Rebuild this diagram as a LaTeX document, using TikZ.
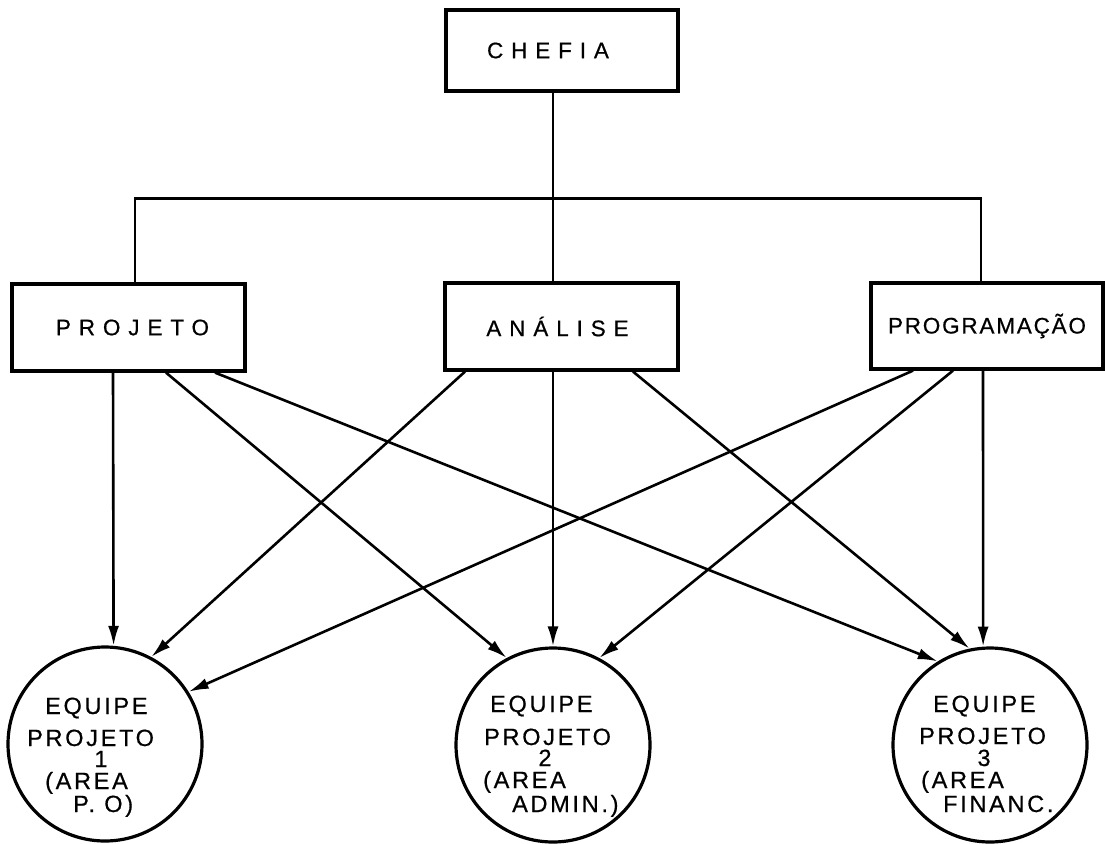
\documentclass[tikz,border=0pt]{standalone}
\usepackage{fontspec}
\setmainfont{Liberation Sans}
\newfontfamily\boxfont[LetterSpace=35,FakeBold=0.6]{Liberation Sans}
\newfontfamily\progfont[LetterSpace=8,FakeBold=0.6]{Liberation Sans}
\newfontfamily\teamfont[LetterSpace=11.5,FakeBold=0.6]{Liberation Sans}
\usetikzlibrary{arrows.meta}

\begin{document}
\begin{tikzpicture}[x=1pt,y=-1pt,
  unitbox/.style={draw,line width=3.2pt,rectangle,inner sep=0pt,
    minimum width=233pt,minimum height=87pt,
    font=\boxfont\fontsize{22.5}{22.5}\selectfont},
  team/.style={draw,line width=3.2pt,circle,inner sep=0pt,minimum size=194pt},
  teamtext/.style={inner sep=0pt,anchor=base west,text height=16pt,text depth=0pt,
    font=\teamfont\fontsize{23.5}{23.5}\selectfont},
  link/.style={line width=2.6pt},
  flow/.style={line width=2.6pt,-{Latex[length=20pt,width=11pt]}}]

\useasboundingbox (0,0) rectangle (1105,843);

% management and the three sections
\node[unitbox,minimum width=232pt,minimum height=81pt] (chefia) at (562,50.5)
  {\hspace*{-28pt}CHEFIA};
\node[unitbox] (proj) at (128.5,327.5) {\hspace*{8pt}PROJETO};
\node[unitbox] (ana)  at (561.5,326.5) {\hspace*{-8pt}ANÁLISE};
\node[unitbox,minimum width=232pt,minimum height=86pt,
      font=\progfont\fontsize{22.5}{22.5}\selectfont] (prog) at (987,326) {PROGRAMAÇÃO};

% project teams
\node[team] (c1) at (105,744) {};
\node[team] (c2) at (553,745) {};
\node[team] (c3) at (990,745) {};

\node[teamtext] (c1a) at (45,714) {EQUIPE};
\node[teamtext] (c1b) at (27,746) {PROJETO};
\node[teamtext,anchor=base] (c1c) at (101,767) {1};
\node[teamtext] (c1d) at (45,789) {(AREA};
\node[teamtext] (c1e) at (73,812) {P. O)};

\node[teamtext] (c2a) at (490,712) {EQUIPE};
\node[teamtext] (c2b) at (484,745) {PROJETO};
\node[teamtext,anchor=base] (c2c) at (545,766) {2};
\node[teamtext] (c2d) at (483,788) {(AREA};
\node[teamtext] (c2e) at (512,812) {ADMIN.)};

\node[teamtext] (c3a) at (933,712) {EQUIPE};
\node[teamtext] (c3b) at (919,744) {PROJETO};
\node[teamtext,anchor=base] (c3c) at (984,766) {3};
\node[teamtext] (c3d) at (921,788) {(AREA};
\node[teamtext] (c3e) at (943,812) {FINANC.};

% hierarchy lines
\draw[link] ([xshift=-9pt]chefia.south) -- ([xshift=-8.5pt]ana.north);
\draw[link] ([xshift=6.5pt]proj.north) -- ++(0,-84) -| ([xshift=-6pt]prog.north);

% assignments of sections to teams
\draw[flow] ([xshift=-15.5pt]proj.south) -- (c1.85);
\draw[flow] ([xshift=37.5pt]proj.south) -- (c2.118);
\draw[flow] ([xshift=86.5pt]proj.south) -- (c3.122);

\draw[flow] ([xshift=-96.5pt]ana.south) -- (c1.62);
\draw[flow] ([xshift=-8.5pt]ana.south) -- (c2.90);
\draw[flow] ([xshift=71.5pt]ana.south) -- (c3.102);

\draw[flow] ([xshift=-74pt]prog.south) -- (c1.32);
\draw[flow] ([xshift=-34pt]prog.south) -- (c2.62);
\draw[flow] ([xshift=-4pt]prog.south) -- (c3.94);
\end{tikzpicture}
\end{document}
